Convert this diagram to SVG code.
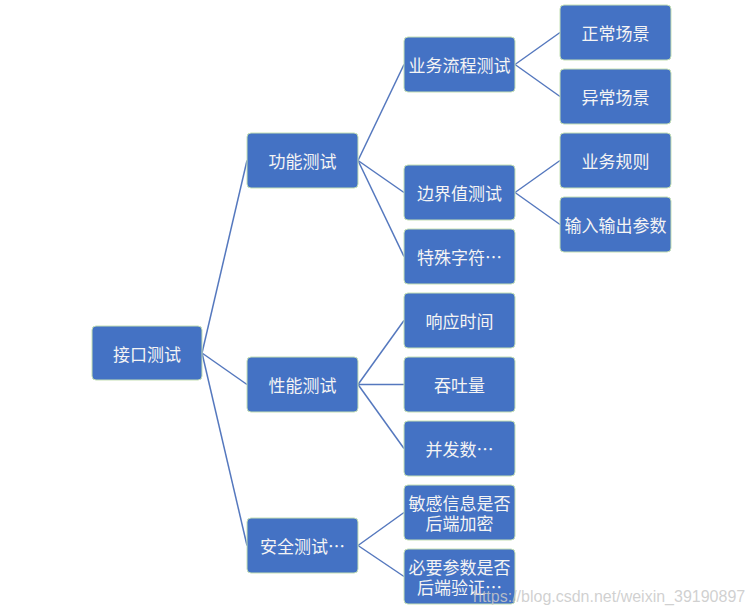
<svg xmlns="http://www.w3.org/2000/svg" width="756" height="615" viewBox="0 0 756 615">
<style>
.box{fill:#4472C4;stroke:#C5E0B4;stroke-width:1}
.t{font-family:"Noto Sans CJK SC","Microsoft YaHei",sans-serif;font-size:17px;fill:#F4F4F4;text-anchor:middle;dominant-baseline:central}
.c{stroke:#5578BE;stroke-width:1.5;fill:none}
.wm{font-family:"Liberation Sans",Arial,sans-serif;font-size:16px;fill:#C8C8C8;fill-opacity:0.85}
</style>
<rect width="756" height="615" fill="#FFFFFF"/>
<g id="connectors">
<line class="c" x1="202" y1="353" x2="247" y2="160.5"/>
<line class="c" x1="202" y1="353" x2="247" y2="384.5"/>
<line class="c" x1="202" y1="353" x2="247" y2="545.5"/>
<line class="c" x1="358" y1="160.5" x2="404" y2="64.5"/>
<line class="c" x1="358" y1="160.5" x2="404" y2="192.5"/>
<line class="c" x1="358" y1="160.5" x2="404" y2="256.5"/>
<line class="c" x1="358" y1="384.5" x2="404" y2="320.5"/>
<line class="c" x1="358" y1="384.5" x2="404" y2="384.5"/>
<line class="c" x1="358" y1="384.5" x2="404" y2="448.5"/>
<line class="c" x1="358" y1="545.5" x2="404" y2="512.5"/>
<line class="c" x1="358" y1="545.5" x2="404" y2="576.5"/>
<line class="c" x1="515" y1="64.5" x2="560" y2="32.5"/>
<line class="c" x1="515" y1="64.5" x2="560" y2="96.5"/>
<line class="c" x1="515" y1="192.5" x2="560" y2="160.5"/>
<line class="c" x1="515" y1="192.5" x2="560" y2="224.5"/>
</g>
<g id="n-root"><rect class="box" x="92" y="326" width="110" height="54" rx="4"/><text class="t" x="147" y="353">接口测试</text></g>
<g id="n-func"><rect class="box" x="247" y="133" width="111" height="55" rx="4"/><text class="t" x="302.5" y="160.5">功能测试</text></g>
<g id="n-perf"><rect class="box" x="247" y="357" width="111" height="55" rx="4"/><text class="t" x="302.5" y="384.5">性能测试</text></g>
<g id="n-sec"><rect class="box" x="247" y="518" width="111" height="55" rx="4"/><text class="t" x="302.5" y="545.5">安全测试…</text></g>
<g id="n-flow"><rect class="box" x="404" y="37" width="111" height="55" rx="4"/><text class="t" x="459.5" y="64.5">业务流程测试</text></g>
<g id="n-bound"><rect class="box" x="404" y="165" width="111" height="55" rx="4"/><text class="t" x="459.5" y="192.5">边界值测试</text></g>
<g id="n-special"><rect class="box" x="404" y="229" width="111" height="55" rx="4"/><text class="t" x="459.5" y="256.5">特殊字符…</text></g>
<g id="n-resp"><rect class="box" x="404" y="293" width="111" height="55" rx="4"/><text class="t" x="459.5" y="320.5">响应时间</text></g>
<g id="n-tput"><rect class="box" x="404" y="357" width="111" height="55" rx="4"/><text class="t" x="459.5" y="384.5">吞吐量</text></g>
<g id="n-conc"><rect class="box" x="404" y="421" width="111" height="55" rx="4"/><text class="t" x="459.5" y="448.5">并发数…</text></g>
<g id="n-enc"><rect class="box" x="404" y="485" width="111" height="55" rx="4"/><text class="t" x="459.5" y="502.5">敏感信息是否</text><text class="t" x="459.5" y="522.5">后端加密</text></g>
<g id="n-valid"><rect class="box" x="404" y="549" width="111" height="55" rx="4"/><text class="t" x="459.5" y="566.5">必要参数是否</text><text class="t" x="459.5" y="586.5">后端验证…</text></g>
<g id="n-normal"><rect class="box" x="560" y="5" width="111" height="55" rx="4"/><text class="t" x="615.5" y="32.5">正常场景</text></g>
<g id="n-abnormal"><rect class="box" x="560" y="69" width="111" height="55" rx="4"/><text class="t" x="615.5" y="96.5">异常场景</text></g>
<g id="n-rule"><rect class="box" x="560" y="133" width="111" height="55" rx="4"/><text class="t" x="615.5" y="160.5">业务规则</text></g>
<g id="n-io"><rect class="box" x="560" y="197" width="111" height="55" rx="4"/><text class="t" x="615.5" y="224.5">输入输出参数</text></g>
<text class="wm" x="473" y="602">https://blog.csdn.net/weixin_39190897</text>
</svg>
